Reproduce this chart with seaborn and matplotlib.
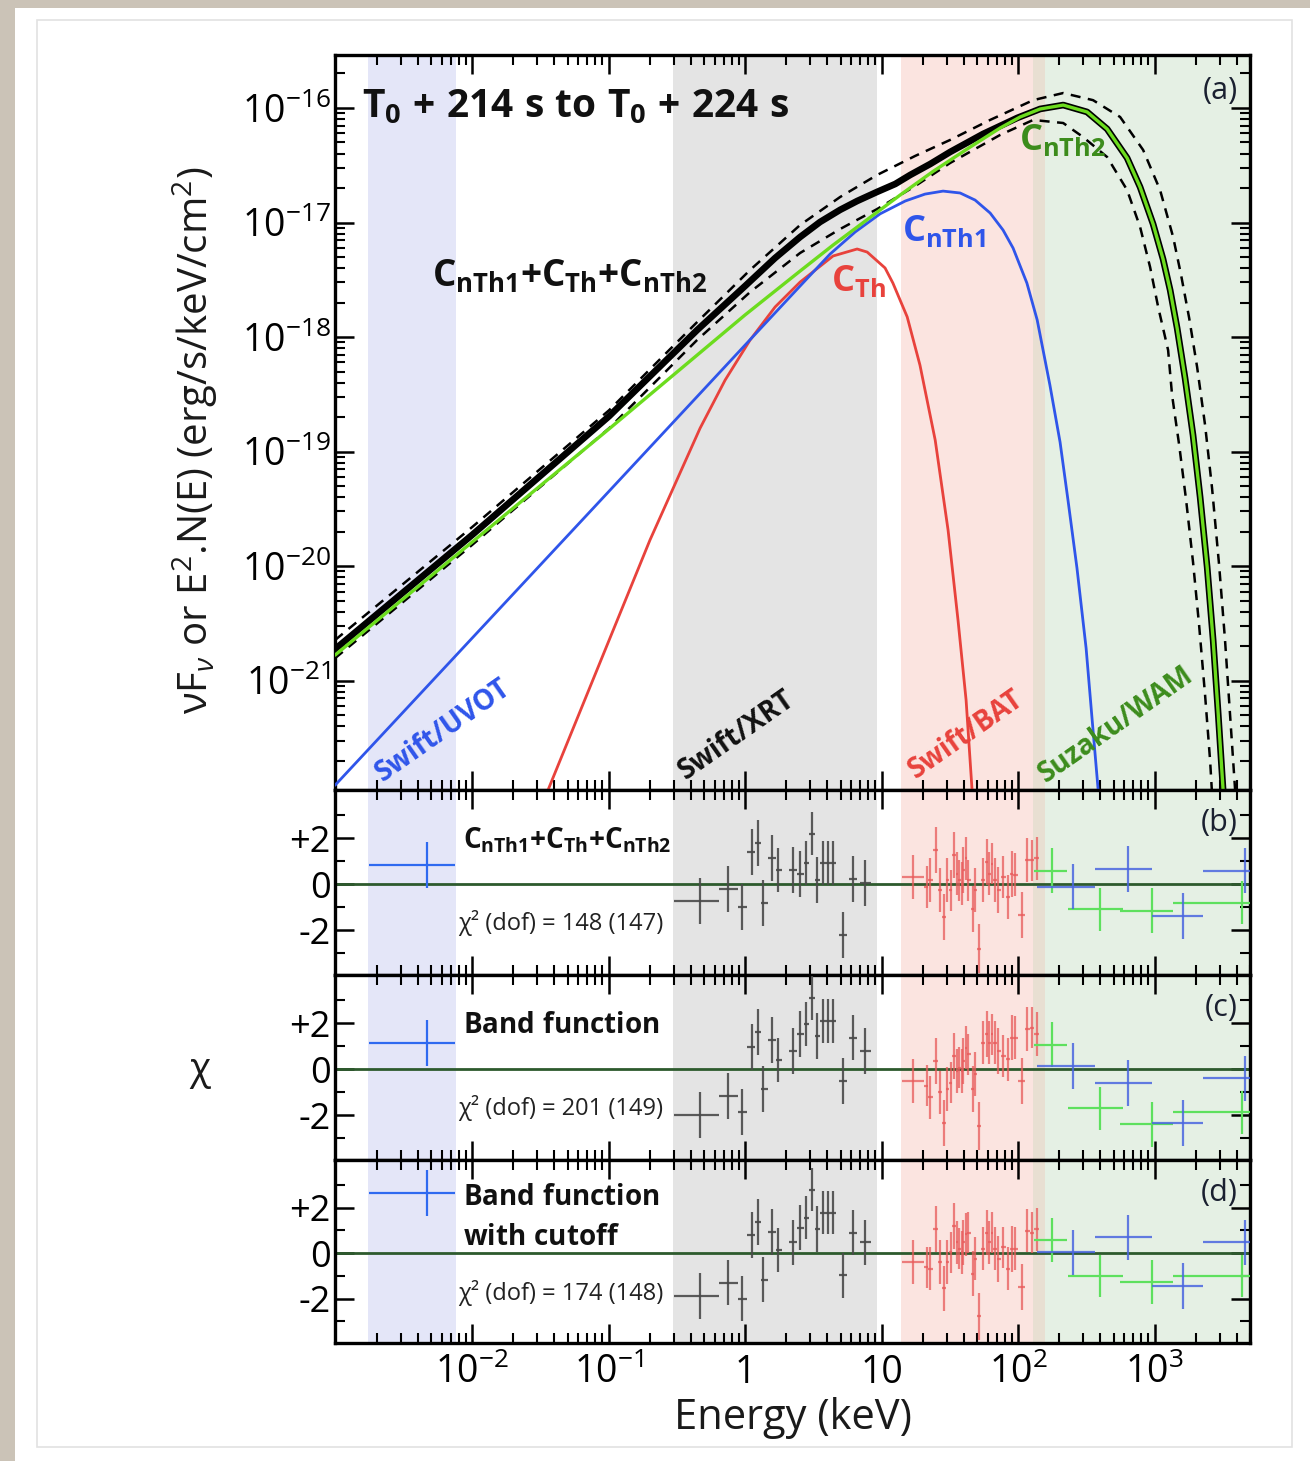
import numpy as np
import matplotlib
matplotlib.use("Agg")
import matplotlib.pyplot as plt
import seaborn as sns
from matplotlib.ticker import FixedLocator, LogLocator, NullFormatter, FixedFormatter
from matplotlib.patches import Rectangle

# ---------------- panel (a): model curves (keV, erg/s/keV/cm2) ----------------
E_tot = [9.9e-4, 0.01, 0.101, 0.445, 1.0, 1.659, 2.53, 3.54, 4.97, 6.62, 9.27, 12.6, 16.2, 22.7,
         31.8, 55.4, 98.4, 145, 214,
         320, 449, 629, 783, 975, 1153, 1300, 1462, 1671, 1913, 2155, 2427, 2685, 2919, 3177, 3451]
F_tot = [1.88e-21, 1.87e-20, 2.04e-19, 1.15e-18, 2.79e-18, 4.90e-18, 7.47e-18, 1.01e-17, 1.29e-17,
         1.54e-17, 1.85e-17, 2.17e-17, 2.60e-17, 3.24e-17,
         4.13e-17, 5.93e-17, 8.18e-17, 9.80e-17, 1.06e-16,
         9.23e-17, 6.56e-17, 3.66e-17, 2.04e-17, 9.70e-18, 4.80e-18, 2.57e-18, 1.20e-18, 4.39e-19,
         1.39e-19, 4.01e-20, 9.80e-21, 2.26e-21, 5.31e-22, 1.11e-22, 1.48e-23]

E_nth2 = [9.9e-4, 0.01, 0.101, 1.0, 2.53, 4.41, 7.84, 13.7, 23.8, 42.3, 73.8, 103.5, 145, 214, 320,
          449, 629, 783, 975, 1153, 1300, 1462, 1671, 1913, 2155, 2427, 2685, 2919, 3177, 3451]
F_nth2 = [1.67e-21, 1.62e-20, 1.58e-19, 1.56e-18, 3.77e-18, 6.35e-18, 1.06e-17, 1.74e-17, 2.79e-17,
          4.38e-17, 6.68e-17, 8.34e-17, 9.80e-17, 1.06e-16, 9.23e-17, 6.56e-17, 3.66e-17, 2.04e-17,
          9.70e-18, 4.80e-18, 2.57e-18, 1.20e-18, 4.39e-19, 1.39e-19, 4.01e-20, 9.80e-21, 2.26e-21,
          5.31e-22, 1.11e-22, 1.48e-23]

E_nth1 = [9.9e-4, 0.01, 0.101, 1.0, 2.53, 4.20, 6.40, 9.75, 14.9, 20.8, 28.2, 37.6, 48.4, 62.4, 77.6,
          91.9, 116, 138, 171, 203, 232, 270, 315, 348, 386, 412]
F_nth1 = [1.22e-22, 2.35e-21, 4.52e-20, 8.51e-19, 2.79e-18, 5.31e-18, 8.26e-18, 1.19e-17, 1.54e-17,
          1.77e-17, 1.88e-17, 1.81e-17, 1.57e-17, 1.21e-17, 8.59e-18, 5.98e-18, 2.96e-18, 1.41e-18,
          3.81e-19, 1.21e-19, 3.77e-20, 9.61e-21, 1.92e-21, 4.70e-22, 1.11e-22, 1.21e-23]

E_th = [0.0225, 0.036, 0.0867, 0.201, 0.468, 0.714, 1.088, 1.659, 2.53, 4.41, 6.62, 7.84, 10.6, 12.1,
        15.4, 19.1, 24.7, 30.7, 36.3, 41.6, 46.0, 49.2]
F_th = [1.21e-23, 1.11e-22, 1.45e-21, 1.69e-20, 1.60e-19, 4.21e-19, 9.42e-19, 1.83e-18, 3.02e-18,
        5.10e-18, 5.87e-18, 5.52e-18, 4.01e-18, 2.96e-18, 1.50e-18, 5.69e-19, 1.26e-19, 2.06e-20,
        3.37e-21, 6.76e-22, 1.11e-22, 1.21e-23]

E_up = [9.9e-4, 0.01, 0.101, 0.445, 1.088, 2.53, 4.97, 9.27, 17.6, 31.8, 62.4, 129, 214, 354, 559,
        824, 1097, 1367, 1564, 1791, 2049, 2344, 2636, 2970, 3281, 3573, 3890, 4228]
F_up = [2.26e-21, 2.19e-20, 2.30e-19, 1.35e-18, 3.85e-18, 9.51e-18, 1.67e-17, 2.60e-17, 3.81e-17,
        5.26e-17, 7.86e-17, 1.17e-16, 1.35e-16, 1.17e-16, 8.34e-17, 4.30e-17, 1.92e-17, 7.47e-18,
        3.47e-18, 1.47e-18, 5.47e-19, 1.70e-19, 4.80e-20, 1.02e-20, 2.26e-21, 5.00e-22, 1.11e-22,
        1.81e-23]

E_lo = [9.9e-4, 0.01, 0.101, 0.445, 1.088, 2.53, 4.97, 9.27, 17.6, 31.8, 73.8, 129, 214, 299, 449,
        629, 783, 927, 1062, 1256, 1343, 1514, 1702, 1913, 2119, 2344, 2550, 2870]
F_lo = [1.57e-21, 1.53e-20, 1.60e-19, 9.42e-19, 2.47e-18, 5.42e-18, 8.77e-18, 1.31e-17, 2.08e-17,
        3.31e-17, 5.81e-17, 7.86e-17, 7.39e-17, 5.58e-17, 3.73e-17, 1.92e-17, 9.14e-18, 4.08e-18,
        1.83e-18, 7.69e-19, 3.11e-19, 1.14e-19, 3.77e-20, 1.08e-20, 3.05e-21, 7.46e-22, 2.02e-22,
        1.81e-23]

# ---------------- instrument energy bands (keV) ----------------
band_names = ["Swift/UVOT", "Swift/XRT", "Swift/BAT", "overlap", "Suzaku/WAM"]
band_lo = [1.73e-3, 0.297, 13.9, 129, 158]
band_hi = [7.63e-3, 9.27, 129, 158, 8000]

# ---------------- residuals ----------------
uvot_E, uvot_lo, uvot_hi = [4.68e-3], [1.76e-3], [7.5e-3]
uvot_err = [1.0]
uvot_chi = {"b": [0.83], "c": [1.14], "d": [2.64]}

xrt_E = [0.468, 0.75, 0.95, 1.125, 1.245, 1.355, 1.58, 1.75, 2.25, 2.53, 2.80, 3.10, 3.37, 3.73,
         4.05, 4.41, 5.22, 6.18, 7.57]
xrt_lo = [0.30, 0.64, 0.88, 1.04, 1.18, 1.30, 1.48, 1.68, 2.10, 2.40, 2.68, 2.95, 3.25, 3.55, 3.90,
          4.25, 4.90, 5.80, 7.00]
xrt_hi = [0.64, 0.88, 1.04, 1.18, 1.30, 1.48, 1.68, 1.85, 2.40, 2.68, 2.95, 3.25, 3.55, 3.90, 4.25,
          4.60, 5.60, 6.60, 8.30]
xrt_err = [1.0, 1.0, 1.0, 1.0, 1.0, 1.0, 1.0, 0.95, 1.0, 1.0, 0.95, 0.95, 1.0, 0.95, 0.95, 0.95,
           1.0, 1.0, 1.0]
xrt_chi = {
    "b": [-0.74, -0.22, -1.0, 1.39, 1.78, -0.83, 1.13, 0.61, 0.61, 0.45, 0.91, 2.2, 0.17, 0.91, 0.91,
          0.91, -2.2, 0.22, 0.04],
    "c": [-2.0, -1.17, -1.86, 0.97, 1.62, -0.84, 1.26, 0.39, 0.80, 1.52, 1.96, 3.1, 1.45, 2.1, 2.1,
          2.1, -0.51, 1.38, 0.80],
    "d": [-1.88, -1.30, -2.0, 0.80, 1.38, -1.16, 0.94, 0.14, 0.48, 1.13, 1.57, 2.80, 1.06, 1.78,
          1.78, 1.78, -0.97, 0.91, 0.48],
}

bat_E = [17.1, 21.4, 22.7, 25.1, 26.8, 28.7, 30.0, 32.1, 34.0, 35.5, 37.2, 38.7, 39.7, 41.4, 43.3,
         46.6, 48.4, 52.1, 55.1, 59.0, 61.7, 64.2, 67.9, 71.8, 78.1, 84.9, 89.9, 95.1, 106, 117,
         126, 137]
bat_edges = [14.0, 20.5, 22.0, 23.8, 26.0, 27.8, 29.4, 31.0, 33.0, 34.8, 36.3, 38.0, 39.2, 40.5,
             42.3, 44.9, 47.5, 50.2, 53.6, 57.0, 60.3, 62.9, 66.0, 69.8, 75.0, 81.5, 87.4, 92.5,
             100.5, 111.5, 121.5, 131.5, 143.0]
bat_err = [0.95, 0.9, 0.95, 1.0, 0.95, 1.0, 0.95, 0.9, 1.0, 0.95, 0.9, 0.95, 1.0, 0.95, 0.9, 1.0,
           0.95, 1.05, 0.95, 1.0, 0.95, 0.9, 0.95, 1.0, 0.9, 0.95, 1.0, 0.95, 1.0, 0.95, 0.9, 0.95]
bat_chi = {
    "b": [0.32, -0.12, 0.17, 1.48, -0.26, -1.42, 0.17, -0.26, 1.26, 0.46, 0.17, 0.03, 0.61, 1.12,
          0.17, -1.06, -0.26, -2.80, 0.17, 0.97, 0.46, 0.90, 0.17, -0.26, 0.32, -0.55, 0.46, 0.42,
          -1.35, 1.04, 1.04, 1.12],
    "c": [-0.51, -0.72, -1.23, 0.36, -1.01, -2.32, -0.87, -0.58, 0.58, -0.07, 0.07, -0.07, 0.36,
          0.94, 0.65, -0.87, -0.22, -2.46, 1.16, 1.52, 1.16, 1.52, 1.16, 0.80, 0.58, 0.43, 1.38,
          1.38, -0.51, 1.74, 1.81, 1.52],
    "d": [-0.39, -0.61, -0.68, 1.06, -0.39, -1.55, -0.39, 0.04, 1.20, 0.48, 0.19, 0.04, 0.48, 0.84,
          0.91, -0.90, -0.25, -2.78, 0.19, 0.91, 0.48, 0.91, 0.19, -0.25, 0.26, -0.68, 0.19, 0.19,
          -1.48, 0.99, 0.91, 1.06],
}

wamg_E, wamg_lo, wamg_hi = [177, 399, 953, 4352], [130, 232, 560, 1370], [229, 588, 1367, 5000]
wamg_err = [0.98, 0.94, 0.98, 0.94]
wamg_chi = {"b": [0.58, -1.09, -1.16, -0.80], "c": [1.06, -1.70, -2.39, -1.88],
            "d": [0.59, -1.0, -1.26, -1.0]}
wamb_E, wamb_lo, wamb_hi = [253, 640, 1618, 4603], [138, 367, 959, 2266], [367, 959, 2266, 6000]
wamb_err = [0.98, 1.0, 1.0, 0.98]
wamb_chi = {"b": [-0.10, 0.68, -1.38, 0.58], "c": [0.14, -0.62, -2.36, -0.39],
            "d": [0.04, 0.70, -1.45, 0.48]}

panel_model = {"b": [r"$\mathbf{C_{nTh1}{+}C_{Th}{+}C_{nTh2}}$"],
               "c": [r"$\mathbf{Band\ function}$"],
               "d": [r"$\mathbf{Band\ function}$", r"$\mathbf{with\ cutoff}$"]}
panel_chi2 = {"b": "χ² (dof) = 148 (147)", "c": "χ² (dof) = 201 (149)", "d": "χ² (dof) = 174 (148)"}

xtick_vals = [1e-2, 1e-1, 1, 10, 100, 1000]
xtick_labels = [r"$10^{-2}$", r"$10^{-1}$", "1", "10", r"$10^{2}$", r"$10^{3}$"]
ytick_vals = [1e-21, 1e-20, 1e-19, 1e-18, 1e-17, 1e-16]
ytick_labels = [r"$10^{-21}$", r"$10^{-20}$", r"$10^{-19}$", r"$10^{-18}$", r"$10^{-17}$", r"$10^{-16}$"]
rtick_vals = [-2, 0, 2]
rtick_labels = ["-2", "0", "+2"]

# ---------------- style ----------------
sns.set_theme(style="ticks")
plt.rcParams["font.family"] = ["Open Sans", "DejaVu Sans"]
plt.rcParams["mathtext.fontset"] = "custom"
plt.rcParams["mathtext.rm"] = "Open Sans"
plt.rcParams["mathtext.it"] = "Open Sans:italic"
plt.rcParams["mathtext.bf"] = "Open Sans:bold"
plt.rcParams["axes.unicode_minus"] = False

W, H = 1310, 1461
fig = plt.figure(figsize=(W / 100, H / 100), dpi=100)
fig.patch.set_facecolor("#cbc3b7")
fig.add_artist(Rectangle((15 / W, 0), 1 - 15 / W, 1 - 8 / H, transform=fig.transFigure,
                         facecolor="white", edgecolor="none", zorder=-20))
fig.add_artist(Rectangle((37 / W, 1 - 1447 / H), (1292 - 37) / W, (1447 - 20) / H,
                         transform=fig.transFigure, facecolor="none", edgecolor="#e2e2e2",
                         lw=1.2, zorder=-19))

L, R = 335, 1250


def rect(top, bottom):
    return [L / W, 1 - bottom / H, (R - L) / W, (bottom - top) / H]


axA = fig.add_axes(rect(55, 790))
axB = fig.add_axes(rect(790, 975))
axC = fig.add_axes(rect(975, 1160))
axD = fig.add_axes(rect(1160, 1343))

band_colors = ["#e4e6f8", "#e4e4e4", "#fbe4e0", "#e8dfd2", "#e5f0e4"]
TICK_FS = 27


def style_axis(ax):
    for s in ax.spines.values():
        s.set_linewidth(2.4)
        s.set_color("black")
    ax.tick_params(which="both", direction="in", top=True, right=True, bottom=True, left=True,
                   colors="black")
    ax.tick_params(which="major", length=14, width=1.8, labelsize=TICK_FS)
    ax.tick_params(which="minor", length=7, width=1.5)
    ax.set_xscale("log")
    ax.set_xlim(9.9e-4, 5.0e3)
    for lo, hi, c in zip(band_lo, band_hi, band_colors):
        ax.axvspan(lo, hi, color=c, lw=0, zorder=0)
    ax.xaxis.set_major_locator(FixedLocator(xtick_vals))
    ax.xaxis.set_minor_locator(LogLocator(base=10, subs=np.arange(2, 10), numticks=30))
    ax.xaxis.set_minor_formatter(NullFormatter())
    ax.grid(False)
    ax.set_facecolor("white")


# ---------------- panel (a) ----------------
style_axis(axA)
axA.set_yscale("log")
axA.set_ylim(1.11e-22, 2.9e-16)
axA.yaxis.set_major_locator(FixedLocator(ytick_vals))
axA.yaxis.set_major_formatter(FixedFormatter(ytick_labels))
axA.yaxis.set_minor_locator(LogLocator(base=10, subs=np.arange(2, 10), numticks=30))
axA.yaxis.set_minor_formatter(NullFormatter())
axA.tick_params(axis="y", pad=3)
axA.xaxis.set_major_formatter(NullFormatter())

for E, F in [(E_up, F_up), (E_lo, F_lo)]:
    sns.lineplot(x=E, y=F, ax=axA, color="black", lw=1.8, linestyle=(0, (4, 3)), sort=False,
                 estimator=None, zorder=3)
sns.lineplot(x=E_th, y=F_th, ax=axA, color="#e8423c", lw=2.0, sort=False, estimator=None, zorder=3)
sns.lineplot(x=E_nth1, y=F_nth1, ax=axA, color="#2f55ea", lw=2.0, sort=False, estimator=None, zorder=3)
sns.lineplot(x=E_tot, y=F_tot, ax=axA, color="black", lw=4.8, sort=False, estimator=None, zorder=4)
sns.lineplot(x=E_nth2, y=F_nth2, ax=axA, color="#6cdc1e", lw=2.4, sort=False, estimator=None, zorder=5)


def fx(px):
    return (px - L) / (R - L)


def fyA(py):
    return (790 - py) / (790 - 55)


axA.text(fx(362), fyA(117), r"$\mathbf{T_0\ {+}\ 214\ s\ to\ T_0\ {+}\ 224\ s}$", transform=axA.transAxes,
         fontsize=28, ha="left", va="baseline", color="#111111", zorder=6)
axA.text(fx(432), fyA(287), r"$\mathbf{C_{nTh1}{+}C_{Th}{+}C_{nTh2}}$", transform=axA.transAxes,
         fontsize=26.5, ha="left", va="baseline", color="#111111", zorder=6)
axA.text(fx(902), fyA(241), r"$\mathbf{C_{nTh1}}$", transform=axA.transAxes,
         fontsize=26, ha="left", va="baseline", color="#2f55ea", zorder=6)
axA.text(fx(831), fyA(291), r"$\mathbf{C_{Th}}$", transform=axA.transAxes,
         fontsize=26, ha="left", va="baseline", color="#e8423c", zorder=6)
axA.text(fx(1019), fyA(150), r"$\mathbf{C_{nTh2}}$", transform=axA.transAxes,
         fontsize=26, ha="left", va="baseline", color="#3c8c1c", zorder=6)
axA.text(fx(1238), fyA(91), "(a)", transform=axA.transAxes, fontsize=22, ha="right", va="center",
         color="#1a2030", zorder=6)

inst_pos = [(443, 731), (737, 735), (966, 735), (1116, 725)]
inst_txt = ["Swift/UVOT", "Swift/XRT", "Swift/BAT", "Suzaku/WAM"]
inst_col = ["#2f55ea", "#111111", "#e8423c", "#3c8c1c"]
for (px, py), t, c in zip(inst_pos, inst_txt, inst_col):
    axA.text(fx(px), fyA(py), t, transform=axA.transAxes, fontsize=20, fontweight="bold",
             rotation=35, rotation_mode="anchor", ha="center", va="center", color=c, zorder=6)

# ---------------- residual panels ----------------
panels = [("b", axB, 790, 975), ("c", axC, 975, 1160), ("d", axD, 1160, 1343)]


def ebar(ax, E, lo, hi, chi, err, color, alpha):
    E = np.asarray(E, float)
    xe = [E - np.asarray(lo, float), np.asarray(hi, float) - E]
    ax.errorbar(E, chi, xerr=xe, yerr=err, fmt="none", ecolor=color, elinewidth=1.6, capsize=0,
                alpha=alpha, zorder=3)


bat_lo = bat_edges[:-1]
bat_hi = bat_edges[1:]

for key, ax, top, bot in panels:
    style_axis(ax)
    ax.set_ylim(-3.95, 4.1)
    ax.yaxis.set_major_locator(FixedLocator(rtick_vals))
    ax.yaxis.set_major_formatter(FixedFormatter(rtick_labels))
    ax.yaxis.set_minor_locator(FixedLocator([-3, -1, 1, 3]))
    ax.tick_params(axis="y", pad=3, labelsize=26)
    ax.axhline(0, color="#2d5a2d", lw=2.0, zorder=2)
    ebar(ax, uvot_E, uvot_lo, uvot_hi, uvot_chi[key], uvot_err, "#2f6af0", 1.0)
    ebar(ax, xrt_E, xrt_lo, xrt_hi, xrt_chi[key], xrt_err, "#4a4a4a", 0.9)
    ebar(ax, bat_E, bat_lo, bat_hi, bat_chi[key], bat_err, "#e85a5a", 0.75)
    ebar(ax, wamg_E, wamg_lo, wamg_hi, wamg_chi[key], wamg_err, "#5ee05e", 1.0)
    ebar(ax, wamb_E, wamb_lo, wamb_hi, wamb_chi[key], wamb_err, "#4a66e0", 0.85)
    hgt = bot - top
    ax.text(fx(1238), (bot - (top + 33)) / hgt, f"({key})", transform=ax.transAxes, fontsize=22,
            ha="right", va="center", color="#1a2030", zorder=6)
    ax.text(fx(458), (bot - (top + 140)) / hgt, panel_chi2[key], transform=ax.transAxes,
            fontsize=17, ha="left", va="baseline", color="#222222", zorder=6)
    lines = panel_model[key]
    if len(lines) == 1:
        ax.text(fx(463), (bot - (top + 58)) / hgt, lines[0], transform=ax.transAxes, fontsize=20,
                ha="left", va="baseline", color="#111111", zorder=6)
    else:
        ax.text(fx(463), (bot - (top + 45)) / hgt, lines[0], transform=ax.transAxes, fontsize=20,
                ha="left", va="baseline", color="#111111", zorder=6)
        ax.text(fx(463), (bot - (top + 85)) / hgt, lines[1], transform=ax.transAxes, fontsize=20,
                ha="left", va="baseline", color="#111111", zorder=6)
    if key != "d":
        ax.xaxis.set_major_formatter(NullFormatter())

axD.xaxis.set_major_formatter(FixedFormatter(xtick_labels))
axD.tick_params(axis="x", pad=8)

fig.text(195 / W, 1 - 440 / H, r"νF$_{ν}$ or E$^{2}$.N(E) (erg/s/keV/cm$^{2}$)", rotation=90,
         ha="center", va="center", fontsize=29, color="#1a1a1a")
fig.text(200 / W, 1 - 1070 / H, "χ", ha="center", va="center", fontsize=28, color="#1a1a1a")
fig.text(793 / W, 1 - 1418 / H, "Energy (keV)", ha="center", va="center", fontsize=30,
         color="#1a1a1a")

fig.savefig("out.png", dpi=100, facecolor=fig.get_facecolor())
